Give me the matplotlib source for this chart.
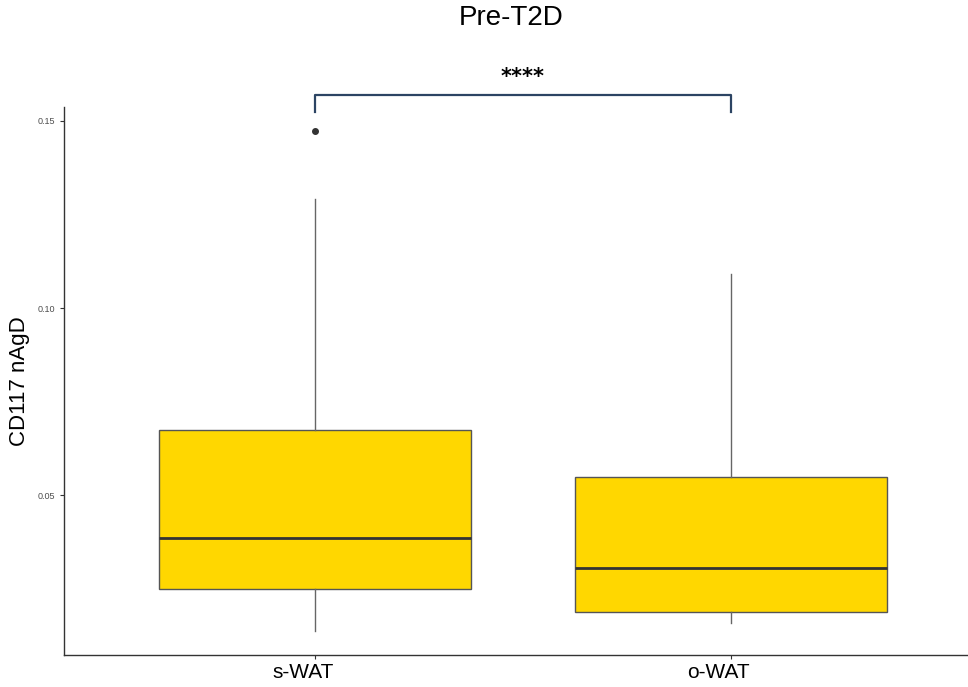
import numpy as np
import matplotlib.pyplot as plt
from matplotlib.transforms import ScaledTranslation

plt.rcParams['font.family'] = ['Liberation Sans', 'DejaVu Sans']

groups = ["s-WAT", "o-WAT"]
whis_lo = [0.0139, 0.0160]
q1 = [0.0249, 0.0189]
med = [0.0385, 0.0306]
q3 = [0.0674, 0.0549]
whis_hi = [0.1292, 0.1091]
fliers = [[0.1473], []]
yticks = [0.05, 0.10, 0.15]
ytick_labels = ["0.05", "0.10", "0.15"]
signif = "****"

stats = []
for i, g in enumerate(groups):
    stats.append(dict(label=g, whislo=whis_lo[i], q1=q1[i], med=med[i],
                      q3=q3[i], whishi=whis_hi[i], fliers=fliers[i]))

fig = plt.figure(figsize=(9.68, 6.87), dpi=100)
ax = fig.add_axes([0.0661, 0.0466, 0.9339, 0.7977])

pos = np.arange(1, len(groups) + 1)
ax.bxp(stats, positions=pos, widths=0.75, patch_artist=True, showcaps=False,
       boxprops=dict(facecolor="#FFD700", edgecolor="#555555", linewidth=1.0),
       medianprops=dict(color="#333333", linewidth=2.0),
       whiskerprops=dict(color="#666666", linewidth=1.0),
       flierprops=dict(marker="o", markersize=4, markerfacecolor="#333333",
                       markeredgecolor="#333333"))

ax.set_xlim(0.397, 2.57)
ax.set_ylim(0.0074, 0.1537)
ax.set_yticks(yticks)
ax.set_yticklabels(ytick_labels, fontsize=6.5, color="#4d4d4d")
ax.set_xticks(pos)
ax.set_xticklabels(groups, fontsize=15, color="black")
ax.tick_params(axis="both", length=3, color="#333333")
ax.tick_params(axis="x", pad=3)
# labels sit slightly left of their ticks in the original
shift = ScaledTranslation(-0.12, 0, fig.dpi_scale_trans)
for lab in ax.get_xticklabels():
    lab.set_transform(lab.get_transform() + shift)
for s in ["top", "right"]:
    ax.spines[s].set_visible(False)
for s in ["left", "bottom"]:
    ax.spines[s].set_color("#333333")
    ax.spines[s].set_linewidth(1.0)
ax.set_ylabel("CD117 nAgD", fontsize=16)
ax.yaxis.set_label_coords(-0.038, 0.50)

# significance bracket
yb = 0.1569
yt = 0.1524
ax.plot([pos[0], pos[0], pos[1], pos[1]], [yt, yb, yb, yt], color="#2c4463",
        linewidth=1.6, clip_on=False)
ax.text(pos.mean(), yb + 0.0022, signif, ha="center", va="bottom",
        fontsize=15, fontweight="bold", family="DejaVu Sans", clip_on=False)

fig.text(0.528, 0.974, "Pre-T2D", fontsize=20, ha="center", va="center")

fig.savefig("out.png", dpi=100)
